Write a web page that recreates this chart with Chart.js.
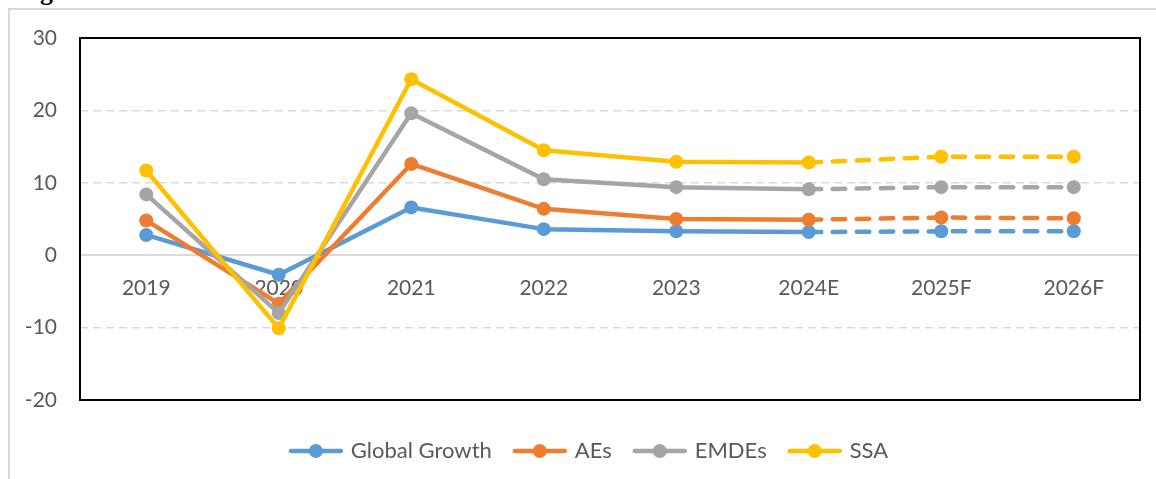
<!DOCTYPE html>
<html>
<head>
<meta charset="utf-8">
<script src="https://cdn.jsdelivr.net/npm/chart.js@4"></script>
<style>
  html, body { margin: 0; padding: 0; background: #fff; }
  #wrap { width: 1156px; height: 479px; }
</style>
</head>
<body>
<div id="wrap"><canvas id="growthChart" width="1156" height="479"></canvas></div>
<script>
// growth rates, %
const categories = ['2019', '2020', '2021', '2022', '2023', '2024E', '2025F', '2026F'];
const globalGrowth = [2.8, -2.7, 6.6, 3.6, 3.3, 3.2, 3.3, 3.3];
const aesGrowth = [4.8, -6.7, 12.6, 6.4, 5.0, 4.9, 5.2, 5.1];
const emdesGrowth = [8.4, -8.0, 19.6, 10.5, 9.4, 9.1, 9.4, 9.4];
const ssaGrowth = [11.7, -10.1, 24.3, 14.5, 12.9, 12.8, 13.6, 13.6];
const seriesNames = ['Global Growth', 'AEs', 'EMDEs', 'SSA'];
const seriesColors = ['#5B9BD5', '#ED7D31', '#A5A5A5', '#FFC000'];

const firstEstimate = 5; // dashed from 2024E on
const textColor = '#595959';
const fontFamily = 'Lato, "Noto Sans", sans-serif';

// little line-with-dot icon for each legend entry
function legendIcon(color) {
    const c = document.createElement('canvas');
    c.width = 56;
    c.height = 16;
    const g = c.getContext('2d');
    g.strokeStyle = color;
    g.lineWidth = 4.5;
    g.lineCap = 'round';
    g.beginPath();
    g.moveTo(3, 8);
    g.lineTo(53, 8);
    g.stroke();
    g.fillStyle = color;
    g.beginPath();
    g.arc(28, 8, 7, 0, Math.PI * 2);
    g.fill();
    return c;
}
const icons = seriesColors.map(legendIcon);

function makeSeries(i, values) {
    return {
        label: seriesNames[i],
        data: values,
        xAxisID: 'x',
        yAxisID: 'y',
        borderColor: seriesColors[i],
        backgroundColor: seriesColors[i],
        borderWidth: 4.5,
        pointRadius: 7,
        pointBorderWidth: 0,
        pointBackgroundColor: seriesColors[i],
        borderCapStyle: 'round',
        borderJoinStyle: 'round',
        tension: 0,
        order: 4 - i,
        segment: {
            borderDash: ctx => ctx.p0DataIndex >= firstEstimate ? [12.5, 11.5] : undefined
        }
    };
}

// empty scale used only to reserve room next to the plot
function spacer(position, size) {
    return {
        type: position === 'bottom' ? 'category' : 'linear',
        position: position,
        display: true,
        grid: { display: false, drawTicks: false },
        border: { display: false },
        ticks: { display: false },
        afterFit: s => {
            if (position === 'bottom') s.height = size; else s.width = size;
        }
    };
}

// light outer frame, clipped heading, black box round the plot
const framePlugin = {
    id: 'frames',
    beforeDraw(chart) {
        const ctx = chart.ctx;
        ctx.save();
        ctx.strokeStyle = '#d9d9d9';
        ctx.lineWidth = 2;
        ctx.beginPath();
        ctx.moveTo(9, chart.height);
        ctx.lineTo(9, 9);
        ctx.lineTo(chart.width, 9);
        ctx.stroke();
        ctx.fillStyle = '#000';
        ctx.font = 'bold 26px "Liberation Serif", serif';
        ctx.textBaseline = 'alphabetic';
        ctx.fillText('Figure', 17, 0);
        ctx.restore();
    },
    afterDraw(chart) {
        const a = chart.chartArea;
        const ctx = chart.ctx;
        ctx.save();
        ctx.strokeStyle = '#000';
        ctx.lineWidth = 2;
        ctx.strokeRect(a.left, a.top, a.right - a.left, a.bottom - a.top);
        ctx.restore();
    }
};

const ctx = document.getElementById('growthChart').getContext('2d');
const growthChart = new Chart(ctx, {
    type: 'line',
    data: {
        labels: categories,
        datasets: [
            makeSeries(0, globalGrowth),
            makeSeries(1, aesGrowth),
            makeSeries(2, emdesGrowth),
            makeSeries(3, ssaGrowth)
        ]
    },
    options: {
        responsive: false,
        animation: false,
        layout: {
            padding: { left: 24, right: 0, top: 38, bottom: 7 }
        },
        scales: {
            x: {
                position: { y: 0 },
                offset: true,
                grid: { display: false, drawTicks: false },
                border: { display: true, color: '#d9d9d9', width: 2 },
                ticks: {
                    color: textColor,
                    font: { family: fontFamily, size: 21 },
                    padding: 20,
                    maxRotation: 0
                }
            },
            y: {
                min: -20,
                max: 30,
                afterFit: scale => { scale.width = 56; },
                border: { display: false, dash: [8, 5] },
                grid: {
                    drawTicks: false,
                    lineWidth: 1.5,
                    color: c => (c.tick && [0, 30, -20].includes(c.tick.value)) ? 'rgba(0,0,0,0)' : '#d9d9d9'
                },
                ticks: {
                    stepSize: 10,
                    color: textColor,
                    font: { family: fontFamily, size: 21 },
                    padding: 23
                }
            },
            xSpacer: spacer('bottom', 16),
            ySpacer: spacer('right', 16)
        },
        plugins: {
            legend: {
                position: 'bottom',
                labels: {
                    usePointStyle: true,
                    pointStyleWidth: 48,
                    padding: 24,
                    color: textColor,
                    font: { family: fontFamily, size: 22 },
                    generateLabels: chart => {
                        const items = Chart.defaults.plugins.legend.labels.generateLabels(chart);
                        items.forEach(item => { item.pointStyle = icons[item.datasetIndex]; });
                        return items.sort((a, b) => a.datasetIndex - b.datasetIndex);
                    }
                }
            },
            tooltip: { enabled: false }
        }
    },
    plugins: [framePlugin]
});
</script>
</body>
</html>
